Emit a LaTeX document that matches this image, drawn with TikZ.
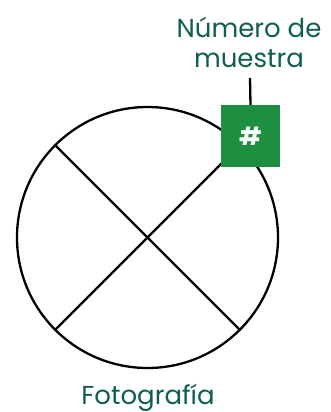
\documentclass[tikz,border=0pt]{standalone}
\usepackage{fontspec}
\setmainfont{Poppins}
\definecolor{boxgreen}{HTML}{1E8F40}
\definecolor{labteal}{HTML}{0F5E50}
\begin{document}
\begin{tikzpicture}[x=1pt,y=-1pt,
  ring/.style={draw=black,line width=2.3pt},
  cut/.style={draw=black,line width=2.3pt},
  tag/.style={fill=boxgreen,text=white,minimum width=59pt,minimum height=62pt,inner sep=0pt,font=\bfseries\fontsize{25}{25}\selectfont},
  lab/.style={text=labteal,font=\fontsize{26}{30}\selectfont,align=center,inner sep=0pt}]
\useasboundingbox (0,0) rectangle (331,412);
\node[circle,minimum size=261pt,inner sep=0pt,ring] (c) at (147.5,237.5) {};
\draw[cut] (c.north west) -- (c.south east);
\draw[cut] (c.south west) -- (c.north east);
\node[tag] (num) at (250.5,136) {\#};
\node[lab] (numlab) at (249,42) {Número de\\muestra};
\coordinate (lead) at (250,78);
\draw[line width=2.3pt] (num.north) -- (lead);
\node[lab,anchor=base] (foto) at (148,404) {Fotografía};
\end{tikzpicture}
\end{document}
